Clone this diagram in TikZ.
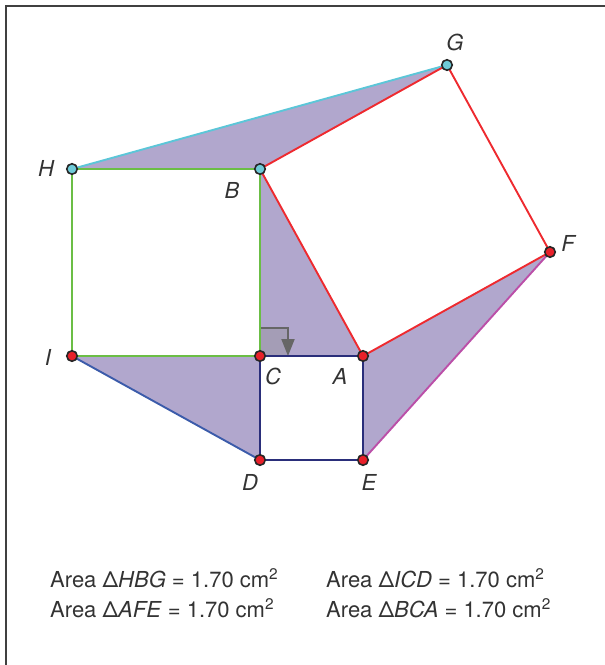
\documentclass[tikz,border=0pt]{standalone}
\usepackage{fontspec}
\setmainfont{TeX Gyre Heros}
\usetikzlibrary{arrows.meta}
\definecolor{lav}{HTML}{B1A7CD}
\definecolor{redl}{HTML}{EE2A2F}
\definecolor{greenl}{HTML}{6BBE45}
\definecolor{navyl}{HTML}{2A2E7A}
\definecolor{cyanl}{HTML}{5CC6D8}
\definecolor{bluel}{HTML}{3B5BAA}
\definecolor{magl}{HTML}{BB4FA8}
\definecolor{txt}{HTML}{333333}
\definecolor{ptred}{HTML}{E8202A}
\definecolor{ptcyan}{HTML}{6FCBD8}
\tikzset{
  pt/.style={circle,draw=black!85,line width=1.6pt,minimum size=10.5pt,inner sep=0pt},
  redpt/.style={pt,fill=ptred},
  cyanpt/.style={pt,fill=ptcyan},
  lbl/.style={text=txt,font=\fontsize{22}{22}\selectfont\itshape,inner sep=0pt},
  seg/.style={line width=1.9pt},
  areatxt/.style={text=txt,font=\fontsize{22}{22}\selectfont,anchor=base west,inner sep=0pt},
}
\begin{document}
\begin{tikzpicture}[x=1pt,y=-1pt]
\useasboundingbox (0,0) rectangle (605,665);
\coordinate (H) at (72,169);
\coordinate (B) at (260,169);
\coordinate (G) at (447,65);
\coordinate (F) at (550,252);
\coordinate (A) at (363,356);
\coordinate (C) at (260,356);
\coordinate (I) at (72,356);
\coordinate (D) at (260,460);
\coordinate (E) at (363,460);
% frame
\draw[line width=1.4pt,black!75] (6,665) -- (6,6) -- (605,6);
% fills
\fill[lav] (H) -- (B) -- (G) -- cycle;
\fill[lav] (I) -- (C) -- (D) -- cycle;
\fill[lav] (A) -- (F) -- (E) -- cycle;
\fill[lav] (B) -- (C) -- (A) -- cycle;
% right angle marker
\coordinate (m1) at (260,328);
\coordinate (m2) at (288,328);
\coordinate (m3) at (288,356);
\fill[black!45,opacity=0.35] (C) -- (m1) -- (m2) -- (m3) -- cycle;
\draw[line width=2pt,black!60,-{Triangle[length=17pt,width=13pt]}] (m1) -- (m2) -- (m3);
% segments
\draw[seg,cyanl] (H) -- (G);
\draw[seg,redl] (G) -- (B) -- (A) -- (F) -- (G);
\draw[seg,greenl] (B) -- (H) -- (I) -- (C) -- (B);
\draw[seg,navyl] (C) -- (A) -- (E) -- (D) -- cycle;
\draw[seg,bluel] (I) -- (D);
\draw[seg,magl] (E) -- (F);
% points
\node[cyanpt] (pH) at (H) {};
\node[cyanpt] (pB) at (B) {};
\node[cyanpt] (pG) at (G) {};
\node[redpt] (pF) at (F) {};
\node[redpt] (pA) at (A) {};
\node[redpt] (pC) at (C) {};
\node[redpt] (pI) at (I) {};
\node[redpt] (pD) at (D) {};
\node[redpt] (pE) at (E) {};
% labels
\node[lbl] (lG) at (455,42) {G};
\node[lbl] (lH) at (46,168) {H};
\node[lbl] (lB) at (232,190) {B};
\node[lbl] (lF) at (568,243) {F};
\node[lbl] (lI) at (48,357) {I};
\node[lbl] (lC) at (273,376) {C};
\node[lbl] (lA) at (340,376) {A};
\node[lbl] (lD) at (250,482) {D};
\node[lbl] (lE) at (369,482) {E};
% area texts
\node[areatxt] (t1) at (50,587) {Area Δ\textit{HBG} = 1.70 cm\textsuperscript{2}};
\node[areatxt] (t2) at (326,587) {Area Δ\textit{ICD} = 1.70 cm\textsuperscript{2}};
\node[areatxt] (t3) at (50,617) {Area Δ\textit{AFE} = 1.70 cm\textsuperscript{2}};
\node[areatxt] (t4) at (326,617) {Area Δ\textit{BCA} = 1.70 cm\textsuperscript{2}};
\end{tikzpicture}
\end{document}
